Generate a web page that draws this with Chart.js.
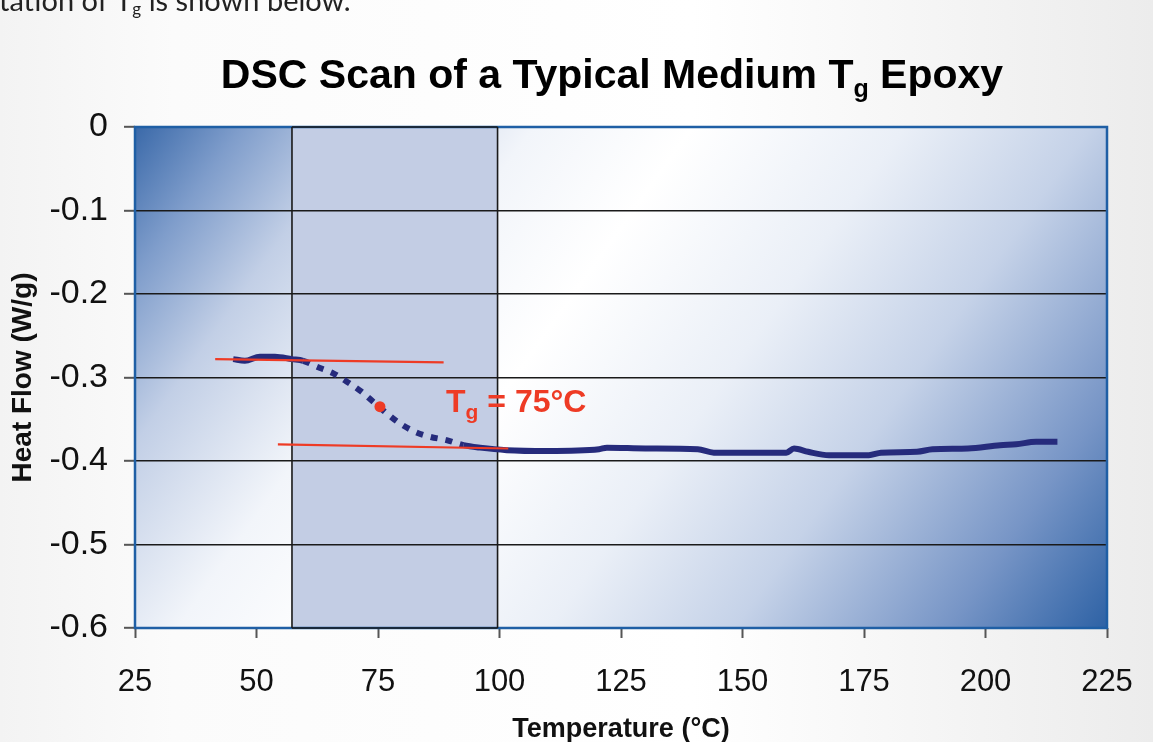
<!DOCTYPE html>
<html>
<head>
<meta charset="utf-8">
<script src="https://cdn.jsdelivr.net/npm/chart.js@4.4.0/dist/chart.umd.min.js"></script>
<style>
  html, body { margin: 0; padding: 0; background: #fff; overflow: hidden; }
  #box { position: relative; width: 1153px; height: 742px; }
</style>
</head>
<body>
<div id="box"><canvas id="dsc"></canvas></div>
<script>
// DSC trace: temperature (°C) and heat flow (W/g)
const scanTemp = [45.2, 47.6, 50.7, 53.8, 57.3, 59.6, 62.4, 65.8, 68.6, 71.6,
  74.0, 76.8, 79.5, 82.6, 85.7, 89.1, 92.6, 96.0, 101.5, 110.0,
  120.5, 122.1, 130.0, 140.8, 144.1, 152.0, 159.0, 160.6, 163.5, 167.8,
  176.0, 178.5, 185.9, 189.1, 196.4, 203.0, 206.3, 210.4, 214.8]
const scanHeat = [-0.278, -0.280, -0.275, -0.275, -0.278, -0.280, -0.287, -0.295, -0.305, -0.317,
  -0.329, -0.343, -0.355, -0.365, -0.371, -0.375, -0.381, -0.384, -0.387, -0.388,
  -0.386, -0.384, -0.385, -0.386, -0.390, -0.390, -0.390, -0.385, -0.389, -0.393,
  -0.393, -0.390, -0.389, -0.386, -0.385, -0.381, -0.380, -0.377, -0.377]

// part of the trace drawn dotted (the transition)
const dottedRange = [59.6, 92.6]

// shaded transition band
const bandRange = [57.3, 99.6]

// tangent lines before and after the step
const upperTangentTemp = [41.5, 88.5]
const upperTangentHeat = [-0.278, -0.282]
const lowerTangentTemp = [54.4, 101.8]
const lowerTangentHeat = [-0.380, -0.385]

// midpoint of the step
const tgTemp = [75.4]
const tgHeat = [-0.335]
const tgLabel = ['T', 'g', ' = 75°C']
const tgLabelAt = [89, -0.341]

// axes
const xTicks = [25, 50, 75, 100, 125, 150, 175, 200, 225]
const yTicks = [0, -0.1, -0.2, -0.3, -0.4, -0.5, -0.6]

const navy = '#262b7c'
const red = '#ee3b25'

const pts = (xs, ys) => xs.map((x, i) => ({x, y: ys[i]}))

// page background, plot gradient and the shaded band go under the grid
const backdrop = {
  id: 'backdrop',
  beforeDraw(chart) {
    const {ctx, chartArea: a, scales: {x}} = chart
    const W = chart.width, H = chart.height
    ctx.save()
    const page = ctx.createLinearGradient(0, 0, W, 0)
    page.addColorStop(0, '#f3f3f3')
    page.addColorStop(0.15, '#fbfbfb')
    page.addColorStop(0.6, '#ffffff')
    page.addColorStop(1, '#ececec')
    ctx.fillStyle = page
    ctx.fillRect(0, 0, W, H)

    const w = a.right - a.left, h = a.bottom - a.top
    const g = ctx.createLinearGradient(a.left, a.top, a.left + w * 0.907, a.top + h * 1.252)
    g.addColorStop(0, '#3a69a9')
    g.addColorStop(0.08, '#7f9dcb')
    g.addColorStop(0.17, '#c2cfe6')
    g.addColorStop(0.3, '#f2f5fa')
    g.addColorStop(0.42, '#ffffff')
    g.addColorStop(0.58, '#eaeff7')
    g.addColorStop(0.72, '#c5d2e8')
    g.addColorStop(0.88, '#7795c6')
    g.addColorStop(1, '#2e62a5')
    ctx.fillStyle = g
    ctx.fillRect(a.left, a.top, w, h)

    const b0 = x.getPixelForValue(bandRange[0])
    const b1 = x.getPixelForValue(bandRange[1])
    ctx.fillStyle = '#c3cde4'
    ctx.fillRect(b0, a.top, b1 - b0, h)
    ctx.restore()
  },
  beforeDatasetsDraw(chart) {
    const {ctx, chartArea: a, scales: {x}} = chart
    const b0 = x.getPixelForValue(bandRange[0])
    const b1 = x.getPixelForValue(bandRange[1])
    ctx.save()
    // plot frame
    ctx.strokeStyle = '#1f5fa5'
    ctx.lineWidth = 2.5
    ctx.strokeRect(a.left, a.top, a.right - a.left, a.bottom - a.top)
    // band outline
    ctx.strokeStyle = '#1a1a1a'
    ctx.lineWidth = 1.6
    ctx.beginPath()
    ctx.moveTo(b0, a.top); ctx.lineTo(b0, a.bottom)
    ctx.moveTo(b1, a.top); ctx.lineTo(b1, a.bottom)
    ctx.moveTo(b0, a.top); ctx.lineTo(b1, a.top)
    ctx.moveTo(b0, a.bottom); ctx.lineTo(b1, a.bottom)
    ctx.stroke()
    ctx.restore()
  }
}

// draws a run of text where the pieces at odd index are subscripts
function drawSubText(ctx, parts, x, y, size, sub, align) {
  const big = 'bold ' + size + 'px "Liberation Sans", Arial, sans-serif'
  const small = 'bold ' + sub + 'px "Liberation Sans", Arial, sans-serif'
  let total = 0
  parts.forEach((p, i) => { ctx.font = i % 2 ? small : big; total += ctx.measureText(p).width })
  let cx = align === 'center' ? x - total / 2 : x
  ctx.textAlign = 'left'
  ctx.textBaseline = 'alphabetic'
  parts.forEach((p, i) => {
    ctx.font = i % 2 ? small : big
    ctx.fillText(p, cx, i % 2 ? y + size * 0.22 : y)
    cx += ctx.measureText(p).width
  })
}

const labels = {
  id: 'labels',
  afterDraw(chart) {
    const {ctx, chartArea: a, scales: {x, y}} = chart
    ctx.save()
    // leftover of the document text above the chart
    ctx.fillStyle = '#222'
    ctx.textBaseline = 'alphabetic'
    ctx.font = '29px Lato, "Open Sans", sans-serif'
    let tx = -1
    ctx.fillText('tation of T', tx, 11)
    tx += ctx.measureText('tation of T').width
    ctx.font = '17px Lato, "Open Sans", sans-serif'
    ctx.fillText('g', tx, 15)
    tx += ctx.measureText('g').width
    ctx.font = '29px Lato, "Open Sans", sans-serif'
    ctx.fillText(' is shown below.', tx, 11)

    // chart title
    ctx.fillStyle = '#000'
    drawSubText(ctx, ['DSC Scan of a Typical Medium T', 'g', ' Epoxy'], (a.left + a.right) / 2 - 9, 88, 41, 25, 'center')

    // Tg annotation
    ctx.fillStyle = red
    drawSubText(ctx, tgLabel, x.getPixelForValue(tgLabelAt[0]), y.getPixelForValue(tgLabelAt[1]), 32, 21, 'left')
    ctx.restore()
  }
}

const chart = new Chart(document.getElementById('dsc'), {
  type: 'line',
  data: {
    datasets: [
      {
        label: 'Tg',
        data: pts(tgTemp, tgHeat),
        showLine: false,
        pointRadius: 5.5,
        pointBackgroundColor: red,
        pointBorderWidth: 0
      },
      {
        label: 'upper tangent',
        data: pts(upperTangentTemp, upperTangentHeat),
        borderColor: red,
        borderWidth: 2.2,
        pointRadius: 0
      },
      {
        label: 'lower tangent',
        data: pts(lowerTangentTemp, lowerTangentHeat),
        borderColor: red,
        borderWidth: 2.2,
        pointRadius: 0
      },
      {
        label: 'heat flow',
        data: pts(scanTemp, scanHeat),
        borderColor: navy,
        borderWidth: 6,
        borderCapStyle: 'butt',
        borderJoinStyle: 'round',
        cubicInterpolationMode: 'monotone',
        pointRadius: 0,
        segment: {
          borderDash: c => (c.p0.parsed.x >= dottedRange[0] && c.p1.parsed.x <= dottedRange[1]) ? [7, 8] : undefined
        }
      }
    ]
  },
  options: {
    responsive: true,
    maintainAspectRatio: false,
    animation: false,
    layout: {padding: {top: 127, right: 46, left: 0, bottom: 0}},
    plugins: {
      legend: {display: false},
      title: {display: false},
      tooltip: {enabled: false}
    },
    scales: {
      x: {
        type: 'linear',
        min: xTicks[0],
        max: xTicks[xTicks.length - 1],
        afterBuildTicks: s => { s.ticks = xTicks.map(v => ({value: v})) },
        afterFit: s => { s.height = 114; s.paddingLeft = 0; s.paddingRight = 0 },
        border: {display: false},
        grid: {drawOnChartArea: false, tickLength: 10, tickColor: '#555', tickWidth: 2},
        ticks: {
          color: '#111',
          padding: 26,
          maxRotation: 0,
          font: {family: '"Liberation Sans", Arial, sans-serif', size: 31}
        },
        title: {
          display: true,
          text: 'Temperature (°C)',
          color: '#111',
          padding: {top: 0, bottom: -4},
          font: {family: '"Liberation Sans", Arial, sans-serif', size: 27, weight: 'bold'}
        }
      },
      y: {
        min: -0.6,
        max: 0,
        afterBuildTicks: s => { s.ticks = yTicks.map(v => ({value: v})) },
        afterFit: s => { s.width = 135; s.paddingTop = 0; s.paddingBottom = 0 },
        border: {display: false},
        grid: {
          color: c => (c.tick.value === 0 || c.tick.value === -0.6) ? 'rgba(0,0,0,0)' : '#1a1a1a',
          lineWidth: 1.6,
          tickLength: 11,
          tickColor: '#555',
          tickWidth: 2
        },
        ticks: {
          color: '#111',
          padding: 16,
          callback: v => v === 0 ? '0' : v.toFixed(1),
          font: {family: '"Liberation Sans", Arial, sans-serif', size: 34}
        },
        title: {
          display: true,
          text: 'Heat Flow (W/g)',
          color: '#111',
          padding: {top: 6, bottom: 0},
          font: {family: '"Liberation Sans", Arial, sans-serif', size: 28, weight: 'bold'}
        }
      }
    }
  },
  plugins: [backdrop, labels]
})
</script>
</body>
</html>
